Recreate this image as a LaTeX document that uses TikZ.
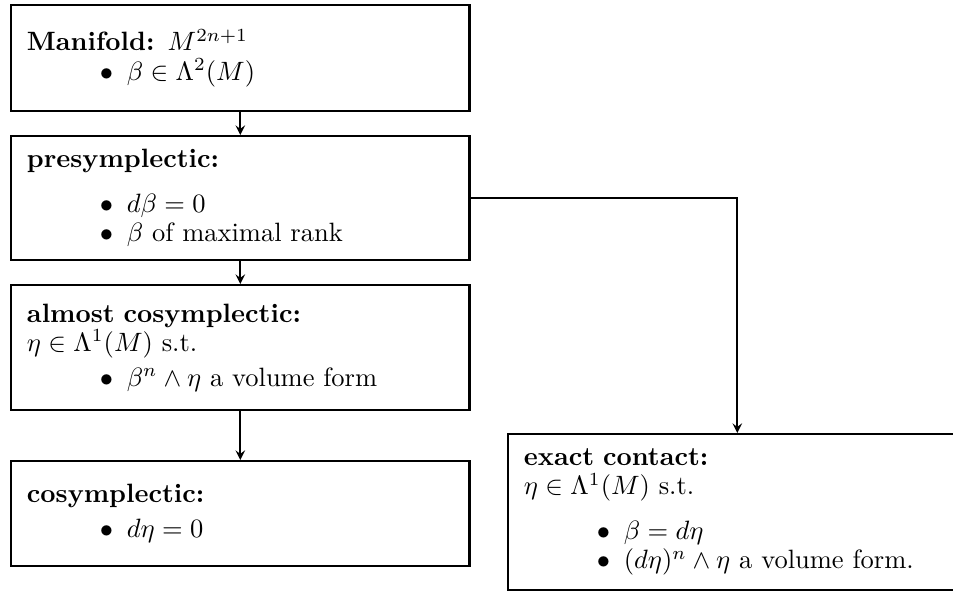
\documentclass[tikz,border=0pt]{standalone}
\usepackage{amsmath}
\usepackage{amssymb}
\usetikzlibrary{arrows}
\tikzstyle{stage} = [draw, line width=0.8pt, rectangle, anchor=north west, text width=161pt, inner xsep=6pt, inner ysep=0pt, align=left, font=\fontsize{10}{11}\selectfont]
\tikzstyle{link} = [-stealth, line width=0.6pt]
\newcommand{\bitem}[1]{\hspace*{27.5pt}\makebox[10.2pt][l]{$\bullet$}#1}

\begin{document}
\begin{tikzpicture}[x=0.3774pt,y=-0.3774pt]
			\useasboundingbox (0,0) rectangle (953,592);
			\node[stage,minimum height=40pt] (manifold) at (10,4) {\textbf{Manifold:} $M^{2n+1}$\\ \bitem{$\beta\in\Lambda^2(M)$}};
			\node[stage,minimum height=46.8pt] (presym) at (10,135) {\textbf{presymplectic:}\\[6pt] \bitem{$d\beta=0$}\\ \bitem{$\beta$ of maximal rank}};
			\node[stage,minimum height=47.2pt] (almost) at (10,284) {\textbf{almost cosymplectic:}\\ $\eta\in\Lambda^1(M)$ s.t.\\[2pt] \bitem{$\beta^n\wedge\eta$ a volume form}};
			\node[stage,minimum height=39.6pt] (cosym) at (10,460) {\textbf{cosymplectic:}\\[2pt] \bitem{$d\eta=0$}};
			\node[stage,minimum height=58.9pt] (contact) at (507,433) {\textbf{exact contact:}\\ $\eta\in\Lambda^1(M)$ s.t.\\[6pt] \bitem{$\beta=d\eta$}\\ \bitem{$(d\eta)^n\wedge\eta$ a volume form.}};
			\draw[link] (manifold) -- (presym);
			\draw[link] (presym) -- (almost);
			\draw[link] (almost) -- (cosym);
			\draw[link] (presym.east) -| (contact.north);
		\end{tikzpicture}
\end{document}
